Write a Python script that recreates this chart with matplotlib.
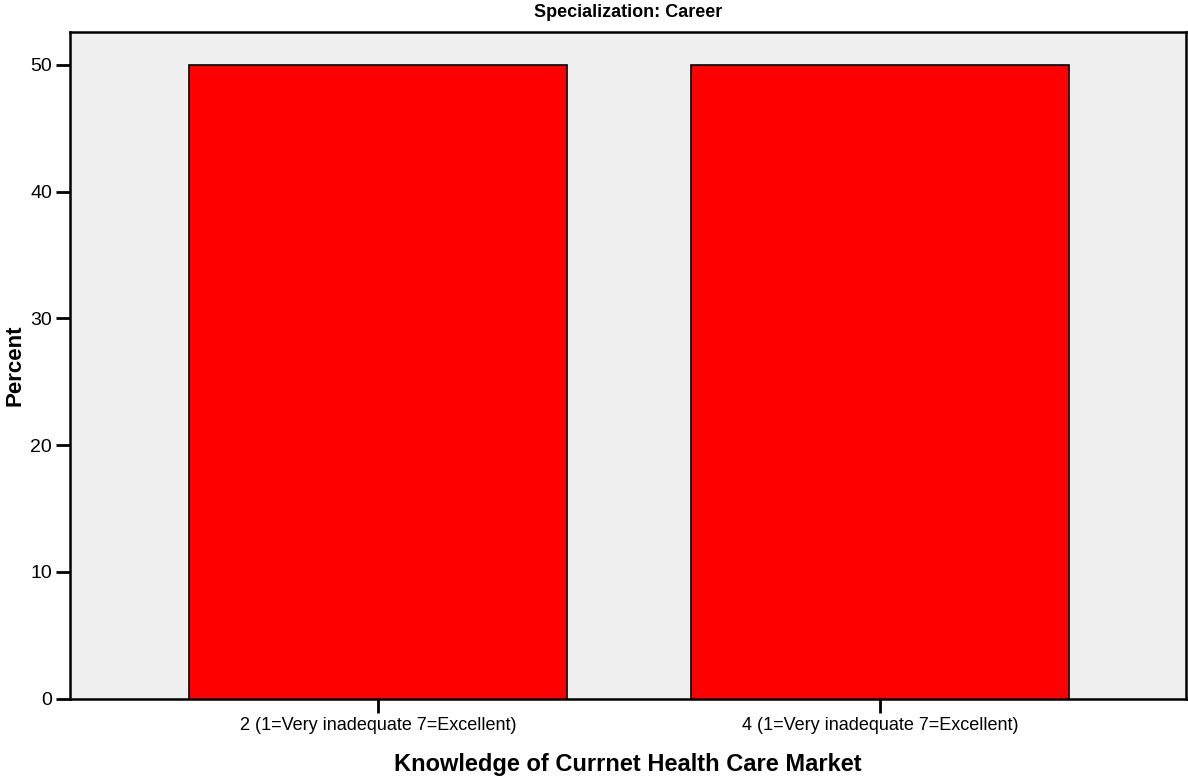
import matplotlib
matplotlib.use("Agg")
import matplotlib.pyplot as plt
from matplotlib import font_manager

categories = ["2 (1=Very inadequate 7=Excellent)", "4 (1=Very inadequate 7=Excellent)"]
percent = [50, 50]
yticks = [0, 10, 20, 30, 40, 50]
title = "Specialization: Career"
xlabel = "Knowledge of Currnet Health Care Market"
ylabel = "Percent"

names = {f.name for f in font_manager.fontManager.ttflist}
fam = "Liberation Sans Narrow" if "Liberation Sans Narrow" in names else "Liberation Sans"
plt.rcParams["font.family"] = [fam, "DejaVu Sans"]

fig = plt.figure(figsize=(11.88, 7.83), dpi=100)
ax = fig.add_axes([70/1188, 1 - 698.5/783, (1186-70)/1188, (698.5-32)/783])
ax.set_facecolor("#EFEFEF")
x = list(range(len(categories)))
ax.bar(x, percent, width=0.753, color="#FF0000", edgecolor="black", linewidth=1.2, zorder=3)
ax.set_xlim(-0.614, 1.61)
ax.set_ylim(0, 52.6)
ax.set_xticks(x)
ax.set_xticklabels(categories, fontsize=13)
ax.set_yticks(yticks)
ax.set_yticklabels([str(t) for t in yticks], fontsize=14)
ax.tick_params(axis="both", direction="out", length=10, width=2, color="black", pad=3)
for s in ax.spines.values():
    s.set_linewidth(1.8)
    s.set_color("black")
ax.set_xlabel(xlabel, fontsize=17, fontweight="bold", labelpad=14)
ax.set_ylabel(ylabel, fontsize=16, fontweight="bold")
ax.yaxis.set_label_coords(-0.040, 0.5)
ax.set_title(title, fontsize=13, fontweight="bold", pad=11)
fig.savefig("out.png", dpi=100)
